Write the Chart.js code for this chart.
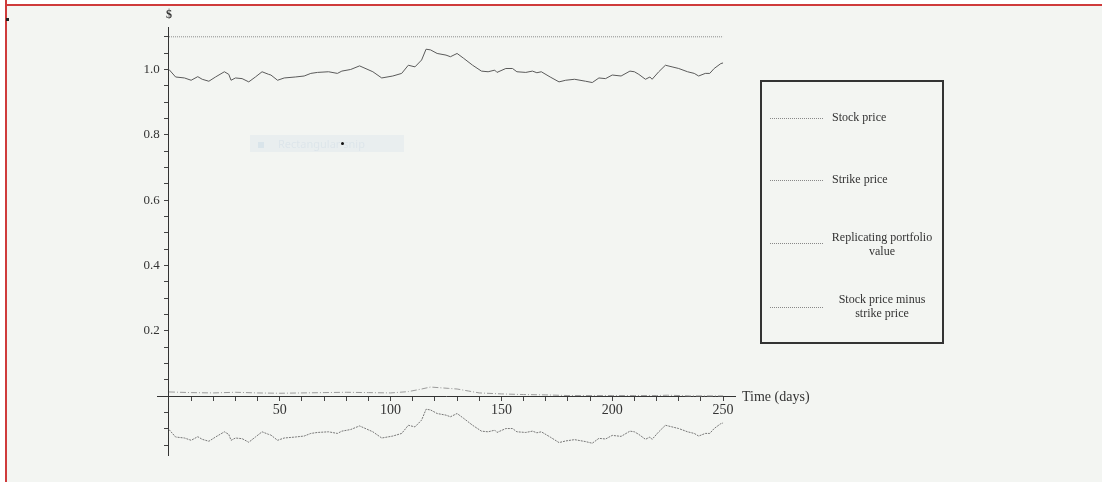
<!DOCTYPE html>
<html lang="en">
<head>
  <meta charset="UTF-8">
  <title>Replicating portfolio</title>
  <script src="https://cdn.jsdelivr.net/npm/chart.js@4.4.1/dist/chart.umd.min.js"></script>
  <style>
    body { margin: 0; background: #fff; }
    #page { position: relative; width: 1102px; height: 482px; overflow: hidden; background: #f3f5f2; }
    #topStrip { position: absolute; left: 0; top: 0; width: 1102px; height: 4px; background: #fff; border-bottom: 2px solid #cf3b3b; }
    #leftEdge { position: absolute; left: 0; top: 0; width: 5px; height: 482px; background: #fff; border-right: 2px solid #cf3b3b; }
    #dot { position: absolute; left: 6px; top: 18px; width: 3px; height: 3px; background: #222; }
    canvas { position: absolute; left: 0; top: 0; }
    #legend { position: absolute; left: 760px; top: 80px; width: 180px; height: 260px; border: 2px solid #333;
      font-family: "Liberation Serif", serif; font-size: 12px; color: #333; }
    .item { position: absolute; left: 0; width: 180px; }
    .sample { position: absolute; left: 8px; width: 53px; border-top: 1px dotted #888; }
    .label { position: absolute; left: 68px; width: 104px; text-align: center; line-height: 14px; }
    #snip { position: absolute; left: 250px; top: 135px; width: 154px; height: 17px; background: rgba(214,226,236,0.35);
      font-family: "Noto Sans", sans-serif; font-size: 11px; color: #dde5ea; line-height: 17px; }
    #snip span.ic { display: inline-block; width: 6px; height: 6px; background: #d9e4ea; margin: 0 14px 0 8px; }
    #cursor { position: absolute; left: 341px; top: 142px; width: 3px; height: 3px; background: #111; border-radius: 2px; }
  </style>
</head>
<body>
<div id="page">
  <canvas id="chart" width="1102" height="482"></canvas>
  <div id="topStrip"></div>
  <div id="leftEdge"></div>
  <div id="dot"></div>
  <div id="snip"><span class="ic"></span>Rectangular snip</div>
  <div id="cursor"></div>
  <div id="legend">
    <div class="item" style="top:28px">
      <div class="sample" style="top:8px"></div>
      <div class="label" style="left:70px;text-align:left">Stock price</div>
    </div>
    <div class="item" style="top:90px">
      <div class="sample" style="top:8px"></div>
      <div class="label" style="left:70px;text-align:left">Strike price</div>
    </div>
    <div class="item" style="top:148px">
      <div class="sample" style="top:13px"></div>
      <div class="label">Replicating portfolio<br>value</div>
    </div>
    <div class="item" style="top:210px">
      <div class="sample" style="top:15px"></div>
      <div class="label">Stock price minus<br>strike price</div>
    </div>
  </div>
</div>

<script>
  // values (days, $)
  const days = [0, 3, 7, 10, 13, 15, 18, 21, 25, 27, 28, 30, 33, 36, 39, 42, 45, 46, 49, 52,
    57, 61, 64, 67, 72, 76, 78, 82, 86, 88, 92, 96, 101, 105, 108, 111, 114, 116, 118, 121,
    125, 127, 130, 133, 137, 141, 144, 147, 148, 152, 155, 157, 161, 164, 166, 168, 172, 176, 179, 183,
    188, 191, 194, 197, 200, 204, 208, 210, 212, 215, 217, 218, 221, 224, 227, 230, 234, 237, 239, 242,
    244, 246, 249, 250];

  const stockPrice = [1.000, 0.977, 0.974, 0.967, 0.978, 0.970, 0.964, 0.977, 0.993, 0.985, 0.967, 0.974, 0.972, 0.962, 0.977, 0.993, 0.985, 0.983, 0.967, 0.974,
    0.977, 0.980, 0.988, 0.991, 0.993, 0.988, 0.995, 1.000, 1.011, 1.005, 0.993, 0.974, 0.980, 0.988, 1.013, 1.008, 1.029, 1.062, 1.060, 1.049,
    1.044, 1.039, 1.049, 1.034, 1.013, 0.995, 0.993, 0.998, 0.991, 1.003, 1.003, 0.993, 0.991, 0.995, 0.990, 0.993, 0.977, 0.962, 0.967, 0.970,
    0.964, 0.960, 0.974, 0.972, 0.983, 0.980, 0.995, 0.993, 0.985, 0.970, 0.977, 0.970, 0.993, 1.013, 1.008, 1.003, 0.993, 0.988, 0.980, 0.988,
    0.988, 1.003, 1.018, 1.020];

  const stockMinusStrike = [-0.102, -0.125, -0.128, -0.135, -0.124, -0.132, -0.138, -0.125, -0.109, -0.117, -0.135, -0.128, -0.130, -0.141, -0.125, -0.109, -0.117, -0.119, -0.135, -0.128,
    -0.125, -0.122, -0.114, -0.111, -0.109, -0.114, -0.107, -0.102, -0.091, -0.097, -0.109, -0.128, -0.122, -0.114, -0.089, -0.094, -0.073, -0.040, -0.042, -0.053,
    -0.058, -0.063, -0.053, -0.068, -0.089, -0.107, -0.109, -0.104, -0.111, -0.099, -0.099, -0.109, -0.111, -0.107, -0.112, -0.109, -0.125, -0.142, -0.137, -0.133,
    -0.139, -0.144, -0.129, -0.131, -0.120, -0.123, -0.107, -0.109, -0.117, -0.132, -0.125, -0.132, -0.109, -0.089, -0.094, -0.099, -0.109, -0.114, -0.122, -0.114,
    -0.114, -0.099, -0.084, -0.082];

  const repDays = [0, 10, 20, 30, 40, 50, 60, 70, 80, 90, 100, 108, 114, 118, 122, 126, 130, 135, 140, 150,
    160, 170, 180, 190, 200, 210, 220, 225, 235, 245, 250];
  const repValue = [0.013, 0.011, 0.010, 0.012, 0.010, 0.009, 0.010, 0.011, 0.012, 0.011, 0.010, 0.014, 0.022, 0.028, 0.026, 0.024, 0.022, 0.016, 0.010, 0.007,
    0.005, 0.004, 0.002, 0.002, 0.002, 0.002, 0.002, 0.003, 0.001, 0.001, 0.001];

  const strikeDays = [0, 250];
  const strikePrice = [1.1, 1.1];

  const xTickLabels = [50, 100, 150, 200, 250];
  const yTickLabels = [0.2, 0.4, 0.6, 0.8, 1.0];

  const pts = (xs, ys) => xs.map((x, i) => ({ x: x, y: ys[i] }));

  // axis titles: "$" over the y axis, "Time (days)" after the x axis
  const axisTitles = {
    id: 'axisTitles',
    afterDraw(chart) {
      const { ctx, chartArea, scales } = chart;
      ctx.save();
      ctx.fillStyle = '#333';
      ctx.font = 'bold 12px "Liberation Serif"';
      ctx.textAlign = 'center';
      ctx.textBaseline = 'middle';
      ctx.fillText('$', scales.x.getPixelForValue(0), chartArea.top - 12);
      ctx.font = '14px "Liberation Serif"';
      ctx.textAlign = 'left';
      ctx.fillText('Time (days)', chartArea.right + 7, scales.y.getPixelForValue(0) + 1);
      ctx.restore();
    }
  };

  const near = (v, list) => list.some(t => Math.abs(v - t) < 1e-6);

  new Chart(document.getElementById('chart'), {
    type: 'line',
    data: {
      datasets: [
        { label: 'Stock price', data: pts(days, stockPrice), borderColor: '#5a5a5a', borderWidth: 1 },
        { label: 'Strike price', data: pts(strikeDays, strikePrice), borderColor: '#8a8a8a', borderWidth: 1, borderDash: [1, 1] },
        { label: 'Replicating portfolio value', data: pts(repDays, repValue), borderColor: '#9a9a9a', borderWidth: 1, borderDash: [6, 2, 1, 2] },
        { label: 'Stock price minus strike price', data: pts(days, stockMinusStrike), borderColor: '#777', borderWidth: 1, borderDash: [2, 1] }
      ]
    },
    options: {
      responsive: false,
      animation: false,
      devicePixelRatio: 1,
      layout: { padding: { left: 157, right: 367, top: 27, bottom: 27 } },
      elements: { point: { radius: 0 }, line: { tension: 0 } },
      plugins: { legend: { display: false }, tooltip: { enabled: false } },
      scales: {
        x: {
          type: 'linear',
          min: -5.4,
          max: 255.4,
          position: { y: 0 },
          border: { color: '#333', width: 1 },
          grid: { drawOnChartArea: false, tickLength: 4, tickColor: '#444' },
          ticks: {
            stepSize: 10,
            includeBounds: false,
            autoSkip: false,
            maxRotation: 0,
            padding: 2,
            color: '#333',
            font: { family: 'Liberation Serif', size: 14 },
            callback: v => near(v, xTickLabels) ? String(Math.round(v)) : ''
          }
        },
        y: {
          type: 'linear',
          min: -0.18,
          max: 1.13,
          position: { x: 0 },
          border: { color: '#333', width: 1 },
          grid: { drawOnChartArea: false, tickLength: 4, tickColor: '#444' },
          ticks: {
            stepSize: 0.05,
            includeBounds: false,
            autoSkip: false,
            color: '#333',
            font: { family: 'Liberation Serif', size: 13 },
            // labels sit right-aligned on the axis, so pad them with spaces
            callback: v => near(v, yTickLabels) ? v.toFixed(1) + '\u2002\u2009' : ''
          }
        }
      }
    },
    plugins: [axisTitles]
  });
</script>
</body>
</html>
